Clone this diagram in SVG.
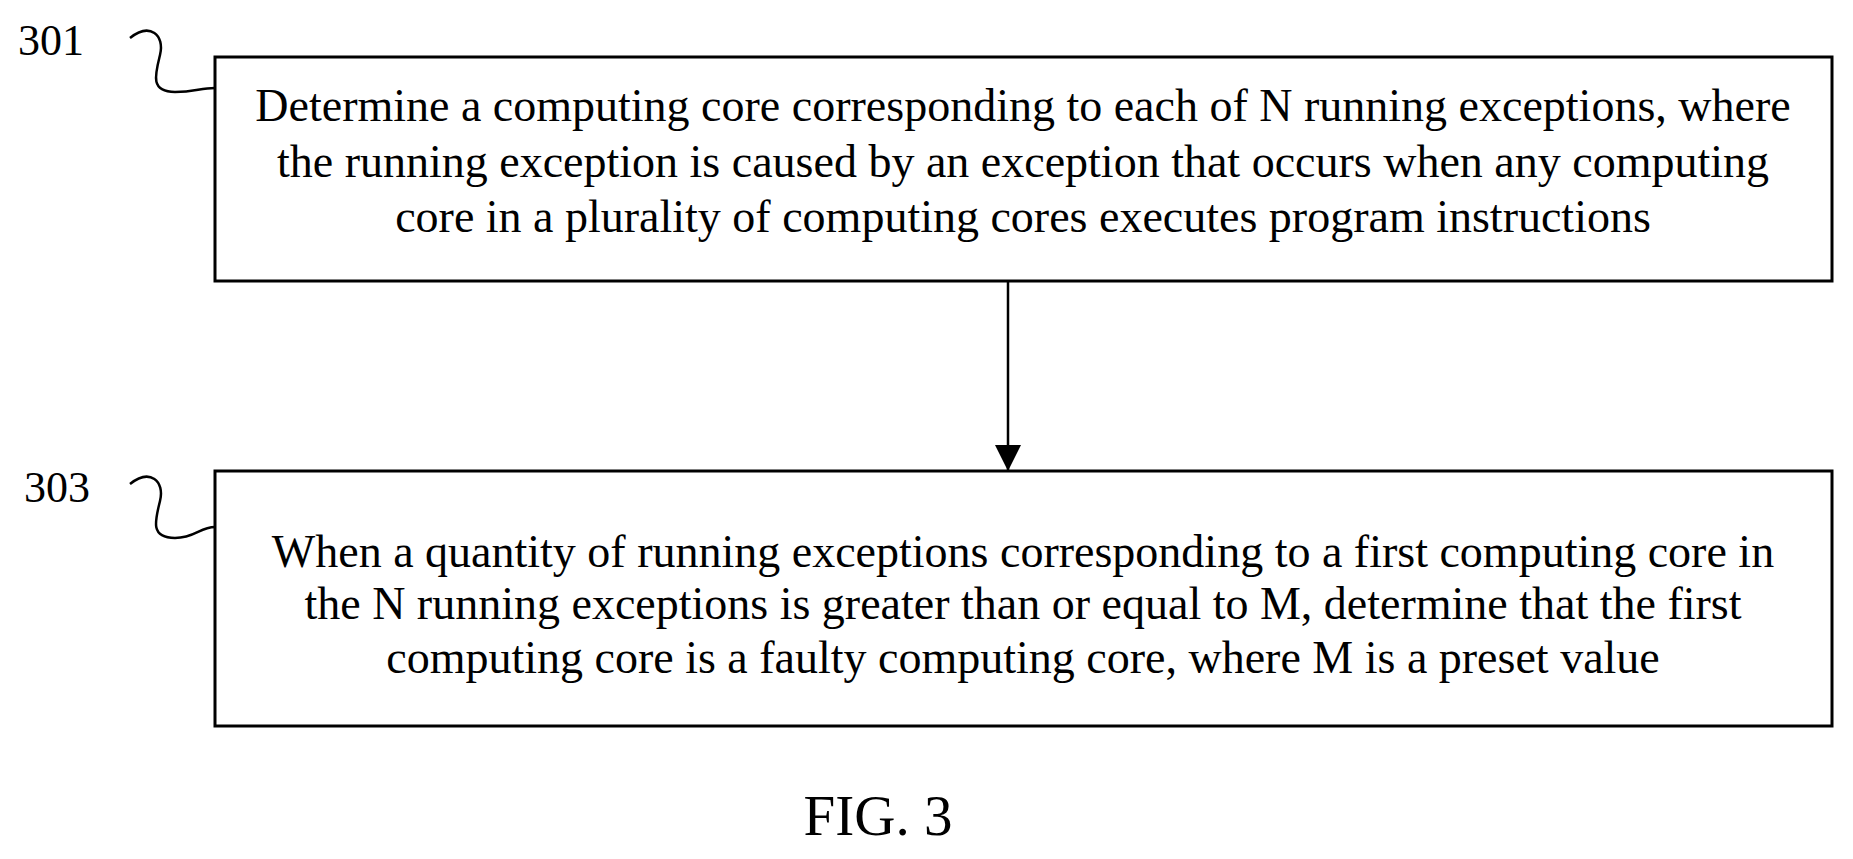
<svg xmlns="http://www.w3.org/2000/svg" width="1853" height="859" viewBox="0 0 1853 859">
<defs><marker id="ah" markerWidth="26" markerHeight="30" refX="26" refY="13" orient="auto" markerUnits="userSpaceOnUse"><path d="M0,0 L26,13 L0,26 Z" fill="#000"/></marker></defs>
<style>
.box{fill:#fff;stroke:#000;stroke-width:3}
.t{font-family:"Liberation Serif",serif;font-size:46px;fill:#000;text-anchor:middle}
.lbl{font-family:"Liberation Serif",serif;font-size:44px;fill:#000}
.sq{fill:none;stroke:#000;stroke-width:2.5}
</style>
<rect width="1853" height="859" fill="#fff"/>
<g id="connectors">
<line x1="1008" y1="281" x2="1008" y2="471" stroke="#000" stroke-width="2.5" marker-end="url(#ah)"/>
</g>
<g id="n301">
<rect class="box" x="215" y="57" width="1617" height="224"/>
<text class="t" x="1023" y="121">Determine a computing core corresponding to each of N running exceptions, where</text>
<text class="t" x="1023" y="177">the running exception is caused by an exception that occurs when any computing</text>
<text class="t" x="1023" y="232">core in a plurality of computing cores executes program instructions</text>
<text class="lbl" x="18" y="55">301</text>
<path class="sq" d="M130,38 C150,22 165,35 160,55 C155,75 150,92 175,92 C195,92 200,88 215,88"/>
</g>
<g id="n303">
<rect class="box" x="215" y="471" width="1617" height="255"/>
<text class="t" x="1023" y="567">When a quantity of running exceptions corresponding to a first computing core in</text>
<text class="t" x="1023" y="619">the N running exceptions is greater than or equal to M, determine that the first</text>
<text class="t" x="1023" y="673">computing core is a faulty computing core, where M is a preset value</text>
<text class="lbl" x="24" y="502">303</text>
<path class="sq" d="M130,484 C150,468 165,481 160,501 C155,521 150,538 175,538 C195,538 200,527 215,527"/>
</g>
<text x="878" y="835" style="font-family:'Liberation Serif',serif;font-size:57px;text-anchor:middle">FIG. 3</text>
</svg>
